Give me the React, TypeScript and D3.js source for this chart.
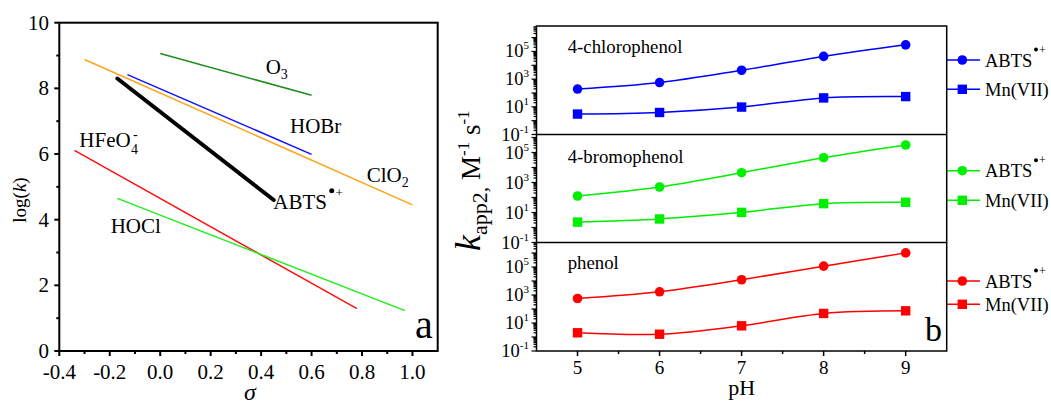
import React from "react";
import * as d3 from "d3";

const FONT = "Liberation Serif, Times New Roman, Times, serif";

// ---- Panel a data (Hammett-type correlations) ----
const reagentNames = ["O3", "HOBr", "ClO2", "ABTS", "HFeO4", "HOCl"];
const reagentColors = ["#1e8c1e", "#1010ff", "#ffa31a", "#000000", "#ff1010", "#22ee22"];
const sigmaStart = [0.0, -0.13, -0.3, -0.17, -0.34, -0.17];
const sigmaEnd = [0.6, 0.6, 1.0, 0.45, 0.78, 0.97];
const logkStart = [9.06, 8.42, 8.88, 8.3, 6.11, 4.65];
const logkEnd = [7.79, 5.99, 4.45, 4.6, 1.29, 1.23];
const sigmaTickValues = [-0.4, -0.2, 0.0, 0.2, 0.4, 0.6, 0.8, 1.0];
const logkTickValues = [0, 2, 4, 6, 8, 10];

// ---- Panel b data ----
const pHValues = [5, 6, 7, 8, 9];
const pHTickValues = [5, 6, 7, 8, 9];
const chloroABTS = [193, 570, 4400, 44000, 300000];
const chloroMn = [3.0, 3.9, 9.6, 44, 55];
const bromoABTS = [126, 500, 4500, 45000, 316000];
const bromoMn = [2.3, 3.7, 10.2, 39, 48];
const phenolABTS = [562, 1700, 12300, 115000, 1020000];
const phenolMn = [2.0, 1.58, 6.3, 48, 74];
const compoundNames = ["4-chlorophenol", "4-bromophenol", "phenol"];
const compoundColors = ["#0000ff", "#00ee00", "#ff0000"];
const kExpLabels = [-1, 1, 3, 5];

export default function App() {
  // ---------- Panel a ----------
  const aL = 59.3, aR = 437.7, aT = 22.7, aB = 351;
  const xA = d3.scaleLinear().domain([-0.4, 1.1]).range([aL, aR]);
  const yA = d3.scaleLinear().domain([0, 10]).range([aB, aT]);
  const sigmaMinor = d3.range(-3, 10, 2).map((i) => i / 10);
  const logkMinor = [1, 3, 5, 7, 9];
  const lineGen = d3.line<[number, number]>().x((d) => xA(d[0])).y((d) => yA(d[1]));

  // ---------- Panel b ----------
  const bL = 536.5, bR = 946.7;
  const xB = d3.scaleLinear().domain([4.5, 9.5]).range([bL, bR]);
  const layout = [
    { top: 26, bottom: 134.5, maxExp: 6.84, abts: chloroABTS, mn: chloroMn, legend: [60, 89.3], titleY: 52.7 },
    { top: 134.5, bottom: 242.5, maxExp: 6.2, abts: bromoABTS, mn: bromoMn, legend: [170.7, 200.3], titleY: 162.7 },
    { top: 242.5, bottom: 351, maxExp: 6.75, abts: phenolABTS, mn: phenolMn, legend: [281, 304.3], titleY: 269 },
  ];
  const pHMinor = [5.5, 6.5, 7.5, 8.5];

  const panelsB = layout.map((p, pi) => {
    const y = d3.scaleLog().domain([0.1, Math.pow(10, p.maxExp)]).range([p.bottom, p.top]);
    const ticks: { v: number; major: boolean }[] = [];
    for (let e = -1; e <= Math.floor(p.maxExp); e++) {
      for (let k = 1; k <= 9; k++) {
        const v = k * Math.pow(10, e);
        if (Math.log10(v) <= p.maxExp + 1e-9) ticks.push({ v, major: k === 1 });
      }
    }
    const line = d3
      .line<number>()
      .x((_, i) => xB(pHValues[i]))
      .y((d) => y(d))
      .curve(d3.curveCatmullRom.alpha(0.5));
    const color = compoundColors[pi];
    return (
      <g key={pi}>
        {ticks.map((t, i) => (
          <line key={i} x1={bL - (t.major ? 5 : 3)} x2={bL} y1={y(t.v)} y2={y(t.v)} stroke="#000" strokeWidth={1.2} />
        ))}
        {kExpLabels.map((e) => (
          <text key={e} x={529} y={y(Math.pow(10, e)) + 6} textAnchor="end" fontSize={18.5}>
            10<tspan fontSize={11} dy={-8}>{e}</tspan>
          </text>
        ))}
        <text x={567.7} y={p.titleY} fontSize={18.8}>{compoundNames[pi]}</text>
        <path d={line(p.abts) || ""} fill="none" stroke={color} strokeWidth={1.5} />
        <path d={line(p.mn) || ""} fill="none" stroke={color} strokeWidth={1.5} />
        {p.abts.map((v, i) => (
          <circle key={"c" + i} cx={xB(pHValues[i])} cy={y(v)} r={4.8} fill={color} />
        ))}
        {p.mn.map((v, i) => (
          <rect key={"s" + i} x={xB(pHValues[i]) - 4.7} y={y(v) - 4.7} width={9.4} height={9.4} fill={color} />
        ))}
        {/* legend */}
        <line x1={bR} x2={980} y1={p.legend[0]} y2={p.legend[0]} stroke={color} strokeWidth={1.5} />
        <circle cx={962.3} cy={p.legend[0]} r={4.8} fill={color} />
        <text x={985} y={p.legend[0] + 6.5} fontSize={18.5}>ABTS</text>
        <circle cx={1036} cy={p.legend[0] - 10.5} r={2} fill="#000" />
        <text x={1039} y={p.legend[0] - 6.5} fontSize={12}>+</text>
        <line x1={bR} x2={980} y1={p.legend[1]} y2={p.legend[1]} stroke={color} strokeWidth={1.5} />
        <rect x={962.3 - 4.7} y={p.legend[1] - 4.7} width={9.4} height={9.4} fill={color} />
        <text x={985} y={p.legend[1] + 6.5} fontSize={18.5}>Mn(VII)</text>
      </g>
    );
  });

  return (
    <svg
      width={1051}
      height={401}
      style={{ position: "absolute", left: 0, top: 0, background: "#fff", fontFamily: FONT }}
      fontFamily={FONT}
    >
      <rect x={0} y={0} width={1051} height={401} fill="#fff" />
      {/* ===== Panel a ===== */}
      {reagentNames.map((n, i) => (
        <path
          key={n}
          d={lineGen([[sigmaStart[i], logkStart[i]], [sigmaEnd[i], logkEnd[i]]]) || ""}
          stroke={reagentColors[i]}
          strokeWidth={n === "ABTS" ? 4 : 1.5}
          strokeLinecap={n === "ABTS" ? "round" : "butt"}
          fill="none"
        />
      ))}
      <rect x={aL} y={aT} width={aR - aL} height={aB - aT} fill="none" stroke="#000" strokeWidth={2} />
      {logkTickValues.map((v) => (
        <g key={"yt" + v}>
          <line x1={aL - 5} x2={aL} y1={yA(v)} y2={yA(v)} stroke="#000" strokeWidth={2} />
          <text x={49} y={yA(v) + 7} textAnchor="end" fontSize={21}>{v}</text>
        </g>
      ))}
      {logkMinor.map((v) => (
        <line key={"ym" + v} x1={aL - 3} x2={aL} y1={yA(v)} y2={yA(v)} stroke="#000" strokeWidth={2} />
      ))}
      {sigmaTickValues.map((v) => (
        <g key={"xt" + v}>
          <line x1={xA(v)} x2={xA(v)} y1={aB} y2={aB + 5} stroke="#000" strokeWidth={2} />
          <text x={xA(v)} y={379} textAnchor="middle" fontSize={21}>{v.toFixed(1)}</text>
        </g>
      ))}
      {sigmaMinor.map((v) => (
        <line key={"xm" + v} x1={xA(v)} x2={xA(v)} y1={aB} y2={aB + 3} stroke="#000" strokeWidth={2} />
      ))}
      <text transform="translate(26,200) rotate(-90)" textAnchor="middle" fontSize={19}>
        log(<tspan fontStyle="italic">k</tspan>)
      </text>
      <text x={250} y={400} textAnchor="middle" fontSize={24} fontStyle="italic">σ</text>
      {/* reagent labels */}
      <text x={265.7} y={74} fontSize={21}>O<tspan fontSize={14} dy={5}>3</tspan></text>
      <text x={290} y={133} fontSize={21}>HOBr</text>
      <text x={366.7} y={181.7} fontSize={21}>ClO<tspan fontSize={14} dy={5}>2</tspan></text>
      <text x={273.3} y={209} fontSize={21}>ABTS</text>
      <circle cx={331.7} cy={190.7} r={2.5} fill="#000" />
      <text x={335.5} y={197} fontSize={13}>+</text>
      <text x={79.3} y={147.3} fontSize={21}>HFeO</text>
      <text x={131} y={154} fontSize={14}>4</text>
      <text x={133} y={139} fontSize={14}>-</text>
      <text x={110.7} y={233} fontSize={21}>HOCl</text>
      <text x={415} y={338.3} fontSize={40}>a</text>

      {/* ===== Panel b ===== */}
      {panelsB}
      <rect x={bL} y={26} width={bR - bL} height={351 - 26} fill="none" stroke="#000" strokeWidth={1.5} />
      <line x1={bL} x2={bR} y1={134.5} y2={134.5} stroke="#000" strokeWidth={1.3} />
      <line x1={bL} x2={bR} y1={242.5} y2={242.5} stroke="#000" strokeWidth={1.3} />
      {pHTickValues.map((v) => (
        <g key={"pt" + v}>
          <line x1={xB(v)} x2={xB(v)} y1={351} y2={356} stroke="#000" strokeWidth={1.5} />
          <text x={xB(v)} y={374} textAnchor="middle" fontSize={19}>{v}</text>
        </g>
      ))}
      {pHMinor.map((v) => (
        <line key={"pm" + v} x1={xB(v)} x2={xB(v)} y1={351} y2={354} stroke="#000" strokeWidth={1.5} />
      ))}
      <text x={741.7} y={395} textAnchor="middle" fontSize={22}>pH</text>
      <text x={925} y={340.7} fontSize={34}>b</text>
      <text transform="translate(480,251) rotate(-90)" fontSize={27}>
        <tspan fontStyle="italic" fontSize={36}>k</tspan>
        <tspan fontSize={22} dy={7}>app2</tspan>
        <tspan fontSize={22}>,</tspan>
        <tspan dy={-7}> M</tspan>
        <tspan fontSize={17} dy={-11}>-1</tspan>
        <tspan dy={11}> s</tspan>
        <tspan fontSize={17} dy={-11}>-1</tspan>
      </text>
    </svg>
  );
}
